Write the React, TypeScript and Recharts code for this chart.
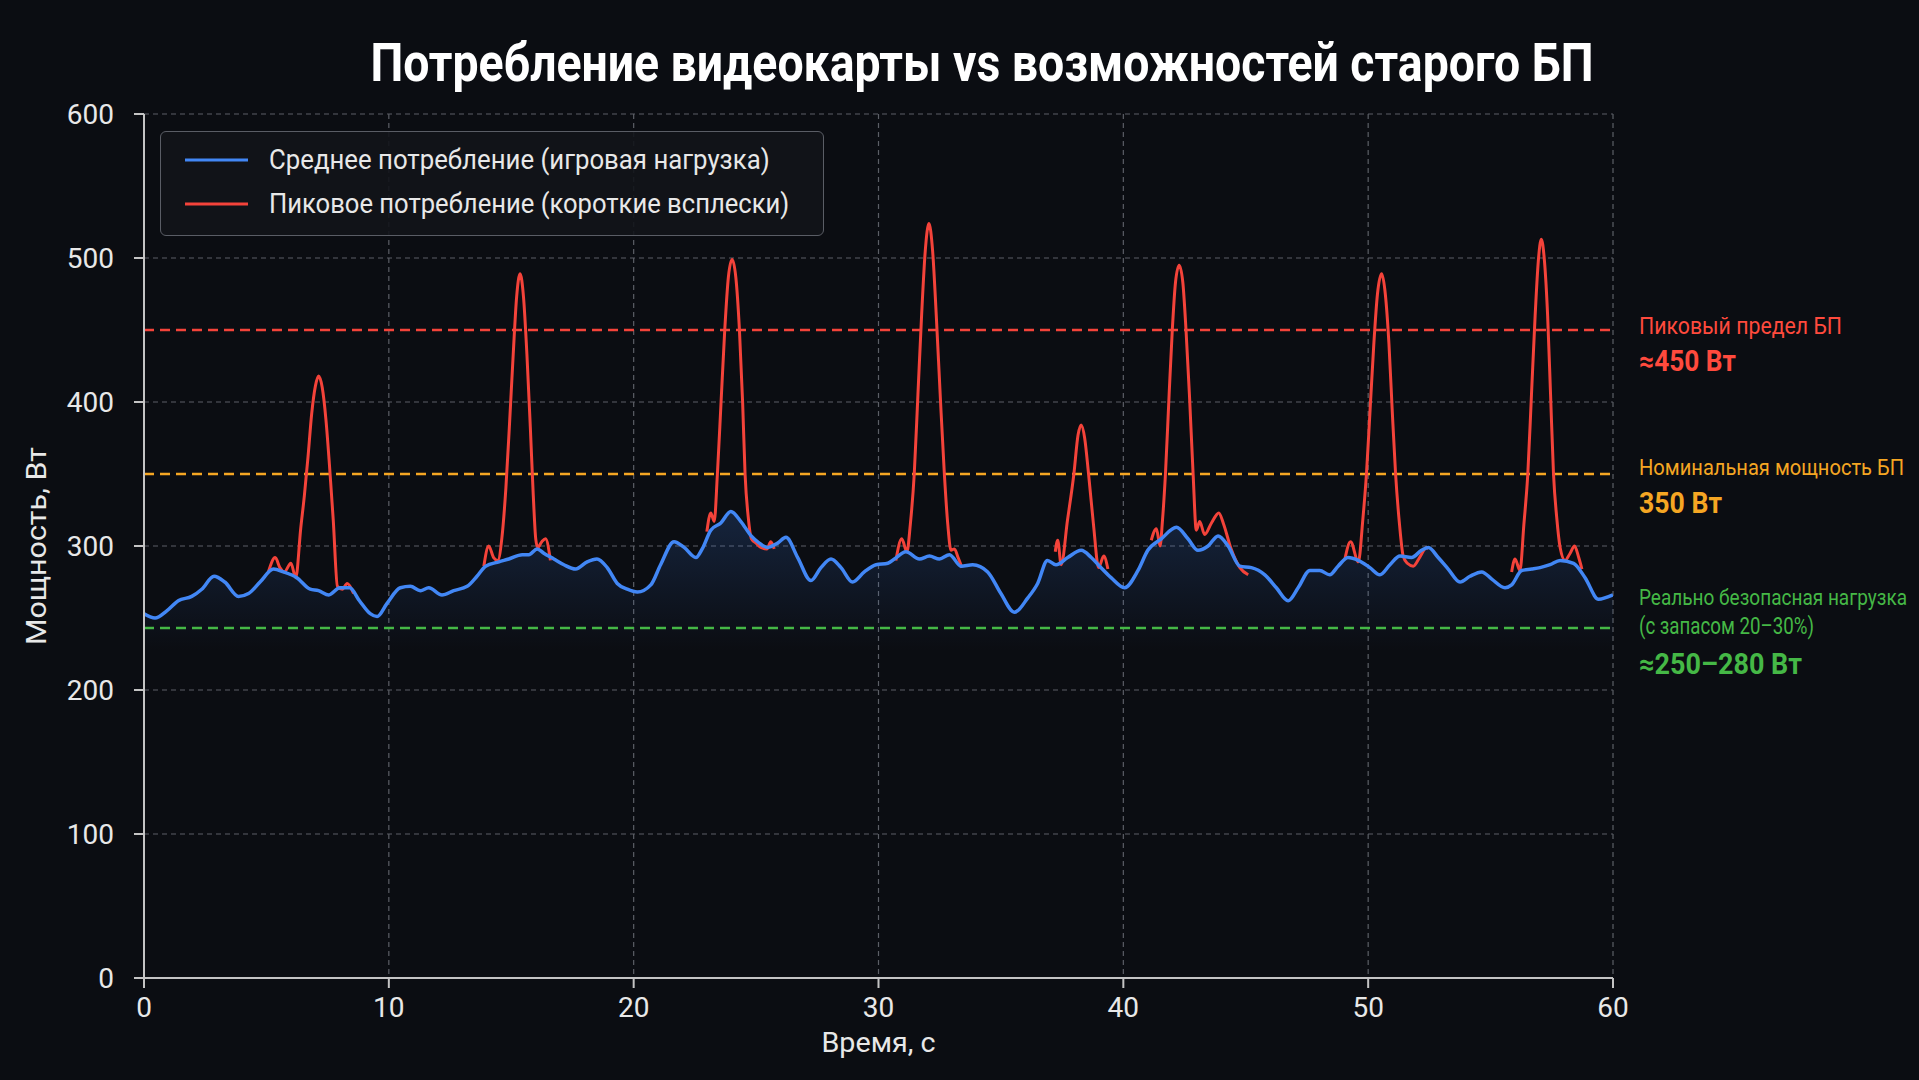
import React from 'react';
import {
  ComposedChart,
  Area,
  Line,
  XAxis,
  YAxis,
  CartesianGrid,
  ReferenceLine,
} from 'recharts';

const FONT = "Roboto, 'Liberation Sans', sans-serif";
const BG = '#0b0d12';
const BLUE = '#4287f5';
const RED = '#f4433a';
const ORANGE = '#f5a623';
const GREEN = '#45b846';

const timeTicks = [0, 10, 20, 30, 40, 50, 60];
const powerTicks = [0, 100, 200, 300, 400, 500, 600];

// average draw, seconds / watts
const avgTime = [
  0, 0.45, 0.93, 1.4, 1.95, 2.36, 2.86, 3.3, 3.86, 4.27, 4.74, 5.29, 5.7, 6.24, 6.79, 7.13, 7.55, 8.0, 8.4, 8.8,
  9.24, 9.52, 9.92, 10.47, 10.88, 11.29, 11.63, 12.17, 12.65, 13.2, 13.6, 13.95, 14.5, 14.9, 15.45, 15.72, 16.06,
  16.33, 16.74, 17.15, 17.63, 18.1, 18.5, 18.92, 19.33, 19.74, 20.15, 20.7, 21.1, 21.65, 22.06, 22.54, 22.8, 23.15,
  23.56, 23.97, 24.38, 24.8, 25.13, 25.47, 25.88, 26.22, 26.7, 27.24, 27.65, 28.06, 28.47, 28.94, 29.42, 29.9,
  30.38, 30.65, 31.12, 31.67, 32.08, 32.49, 32.9, 33.37, 33.85, 34.46, 35.0, 35.55, 36.1, 36.5, 36.9, 37.25, 37.73,
  38.28, 38.69, 39.03, 39.5, 40.05, 40.6, 41.0, 41.55, 42.17, 42.64, 43.05, 43.46, 43.87, 44.28, 44.76, 45.23,
  45.78, 46.25, 46.73, 47.14, 47.62, 48.02, 48.43, 48.77, 49.18, 49.6, 50.07, 50.48, 50.89, 51.3, 51.77, 52.18,
  52.46, 52.86, 53.27, 53.75, 54.16, 54.64, 55.05, 55.59, 55.86, 56.27, 56.68, 57.02, 57.43, 57.84, 58.39, 58.86,
  59.41, 60,
];
const avgWatts = [
  253, 250, 255, 262, 265, 270, 279, 275, 265, 267, 275, 284, 282, 278, 270, 269, 266, 271, 271, 262,
  253, 251, 260, 271, 272, 269, 271, 266, 269, 272, 279, 286, 289, 291, 294, 294, 298,
  295, 291, 287, 284, 289, 291, 285, 274, 270, 268, 273, 287, 303, 299, 292, 298, 311,
  316, 324, 317, 307, 302, 299, 302, 306, 292, 276, 285, 291, 285, 275, 282, 287,
  288, 291, 296, 291, 293, 291, 294, 286, 287, 282, 267, 254, 264, 274, 290, 287, 292,
  297, 292, 286, 278, 271, 283, 297, 305, 313, 305, 297, 300, 307, 300, 286, 285,
  280, 271, 262, 271, 283, 283, 280, 286, 292, 290, 285, 280, 287, 293, 292, 297,
  299, 292, 284, 275, 279, 282, 277, 271, 273, 283, 284, 285, 287, 290, 288, 278,
  263, 266,
];

// short peak bursts, [seconds, watts]
const peakBursts = [
  [[5.08, 282], [5.36, 292], [5.55, 285], [5.73, 282], [6.0, 288], [6.2, 278], [6.4, 312], [6.55, 335], [6.7, 362],
   [6.85, 392], [7.0, 411], [7.13, 418], [7.28, 410], [7.43, 388], [7.58, 355], [7.73, 318], [7.9, 272], [8.1, 270],
   [8.3, 274], [8.56, 267]],
  [[13.88, 286], [14.08, 300], [14.28, 292], [14.45, 290], [14.62, 306], [14.78, 340], [14.93, 385], [15.08, 433],
   [15.22, 473], [15.36, 489], [15.5, 473], [15.64, 433], [15.78, 382], [15.9, 335], [16.0, 305], [16.08, 299],
   [16.25, 303], [16.4, 305], [16.6, 290]],
  [[22.99, 310], [23.15, 323], [23.29, 317], [23.42, 350], [23.57, 400], [23.72, 450], [23.87, 487], [24.02, 499],
   [24.17, 487], [24.32, 450], [24.45, 400], [24.55, 350], [24.68, 320], [24.81, 305], [25.0, 302], [25.2, 299],
   [25.45, 298], [25.6, 303], [25.74, 298]],
  [[30.71, 290], [30.95, 305], [31.16, 296], [31.3, 315], [31.46, 350], [31.61, 405], [31.76, 460], [31.91, 505],
   [32.06, 524], [32.21, 505], [32.36, 460], [32.52, 405], [32.69, 350], [32.83, 315], [32.96, 297], [33.1, 298],
   [33.25, 292], [33.41, 285]],
  [[37.22, 296], [37.32, 304], [37.46, 287], [37.72, 318], [37.98, 350], [38.15, 377], [38.28, 384], [38.42, 375],
   [38.58, 350], [38.78, 315], [38.99, 285], [39.2, 293], [39.37, 284]],
  [[41.14, 304], [41.35, 312], [41.5, 300], [41.6, 318], [41.72, 350], [41.87, 405], [42.0, 450], [42.13, 483],
   [42.28, 495], [42.43, 483], [42.56, 450], [42.7, 405], [42.85, 350], [42.98, 311], [43.12, 317], [43.32, 308],
   [43.6, 316], [43.9, 323], [44.1, 315], [44.4, 298], [44.76, 285], [45.1, 280]],
  [[49.05, 291], [49.28, 303], [49.6, 289], [49.78, 318], [49.93, 350], [50.08, 395], [50.23, 440], [50.38, 475],
   [50.55, 489], [50.7, 475], [50.85, 440], [50.98, 395], [51.12, 350], [51.28, 315], [51.43, 293], [51.6, 288],
   [51.84, 286], [52.1, 292], [52.39, 299], [52.46, 298]],
  [[55.86, 282], [56.0, 291], [56.2, 283], [56.36, 315], [56.52, 350], [56.67, 405], [56.82, 460], [56.95, 498],
   [57.07, 513], [57.2, 498], [57.33, 460], [57.45, 405], [57.57, 350], [57.7, 320], [57.84, 299], [58.04, 290],
   [58.25, 295], [58.43, 300], [58.6, 292], [58.73, 284]],
];

const psuPeak = 450;
const psuRated = 350;
const psuSafe = 243;

const seriesNames = {
  avg: 'Среднее потребление (игровая нагрузка)',
  peak: 'Пиковое потребление (короткие всплески)',
};

const avgData = avgTime.map((t, i) => ({ t, avg: avgWatts[i] }));
const peakData: { t: number; peak: number | null }[] = [];
peakBursts.forEach((burst) => {
  burst.forEach(([t, w]) => peakData.push({ t, peak: w }));
  peakData.push({ t: burst[burst.length - 1][0] + 0.01, peak: null });
});

const tickStyle = { fill: '#e8e8e8', fontSize: 28, fontFamily: FONT };

type Note = { text: string; dy: number; w: number; bold?: boolean; size?: number };

const sideNote = (lines: Note[], color: string) => (props: any) => {
  const { x, y, width } = props.viewBox;
  return (
    <g>
      {lines.map((l, i) => (
        <text
          key={i}
          x={x + width + 26}
          y={y + l.dy}
          fill={color}
          fontFamily={FONT}
          fontSize={l.size ?? (l.bold ? 29 : 24)}
          fontWeight={l.bold ? 700 : 400}
          dominantBaseline="central"
          textLength={l.w}
          lengthAdjust="spacingAndGlyphs"
        >
          {l.text}
        </text>
      ))}
    </g>
  );
};

const yTitle = (props: any) => {
  const { x, y, height } = props.viewBox;
  const cx = x + 26;
  const cy = y + height / 2;
  return (
    <text
      x={cx}
      y={cy}
      transform={`rotate(-90 ${cx} ${cy})`}
      textAnchor="middle"
      dominantBaseline="central"
      fill="#e8e8e8"
      fontFamily={FONT}
      fontSize={28}
      textLength={198}
      lengthAdjust="spacingAndGlyphs"
    >
      Мощность, Вт
    </text>
  );
};

const xTitle = (props: any) => {
  const { x, y, width } = props.viewBox;
  return (
    <text
      x={x + width / 2}
      y={y + 74}
      textAnchor="middle"
      fill="#e8e8e8"
      fontFamily={FONT}
      fontSize={28}
      textLength={114}
      lengthAdjust="spacingAndGlyphs"
    >
      Время, с
    </text>
  );
};

const legendItems = [
  { key: 'avg', color: BLUE, w: 409 },
  { key: 'peak', color: RED, w: 425 },
];

export default function App() {
  return (
    <div style={{ position: 'fixed', left: 0, top: 0, width: 1919, height: 1080, background: BG }}>
      <ComposedChart
        width={1919}
        height={1080}
        data={avgData}
        margin={{ top: 114, right: 306, left: 10, bottom: 12 }}
      >
        <defs>
          <linearGradient id="avgFill" x1="0" y1="0" x2="0" y2="1">
            <stop offset="0%" stopColor={BLUE} stopOpacity={0.32} />
            <stop offset="18%" stopColor={BLUE} stopOpacity={0.12} />
            <stop offset="30%" stopColor={BLUE} stopOpacity={0} />
          </linearGradient>
        </defs>
        <CartesianGrid stroke="#5c5f66" strokeDasharray="5 4" strokeWidth={1.2} />
        <XAxis
          type="number"
          dataKey="t"
          domain={[0, 60]}
          ticks={timeTicks}
          allowDataOverflow
          height={90}
          tick={tickStyle}
          tickSize={10}
          tickMargin={9}
          stroke="#c4c4c4"
          strokeWidth={2}
          label={xTitle}
        />
        <YAxis
          type="number"
          domain={[0, 600]}
          ticks={powerTicks}
          width={134}
          tick={tickStyle}
          tickSize={10}
          tickMargin={20}
          stroke="#c4c4c4"
          strokeWidth={2}
          label={yTitle}
        />
        <ReferenceLine
          y={psuPeak}
          stroke={RED}
          strokeWidth={2.5}
          strokeDasharray="10 6"
          label={sideNote(
            [
              { text: 'Пиковый предел БП', dy: -4, w: 203 },
              { text: '≈450 Вт', dy: 31, w: 97, bold: true },
            ],
            '#ff4a3d'
          )}
        />
        <ReferenceLine
          y={psuRated}
          stroke={ORANGE}
          strokeWidth={2.5}
          strokeDasharray="10 6"
          label={sideNote(
            [
              { text: 'Номинальная мощность БП', dy: -7, w: 265, size: 22 },
              { text: '350 Вт', dy: 29, w: 83, bold: true },
            ],
            ORANGE
          )}
        />
        <ReferenceLine
          y={psuSafe}
          stroke={GREEN}
          strokeWidth={2.5}
          strokeDasharray="10 6"
          label={sideNote(
            [
              { text: 'Реально безопасная нагрузка', dy: -31, w: 268, size: 22 },
              { text: '(с запасом 20–30%)', dy: -2, w: 175 },
              { text: '≈250–280 Вт', dy: 36, w: 163, bold: true },
            ],
            GREEN
          )}
        />
        <Area
          type="monotone"
          dataKey="avg"
          stroke="none"
          fill="url(#avgFill)"
          isAnimationActive={false}
          legendType="none"
        />
        <Line
          data={peakData}
          type="monotone"
          dataKey="peak"
          name={seriesNames.peak}
          stroke={RED}
          strokeWidth={3}
          dot={false}
          connectNulls={false}
          isAnimationActive={false}
        />
        <Line
          type="monotone"
          dataKey="avg"
          name={seriesNames.avg}
          stroke={BLUE}
          strokeWidth={3.5}
          dot={false}
          isAnimationActive={false}
        />
      </ComposedChart>

      <div
        style={{
          position: 'absolute',
          left: 160,
          top: 131,
          width: 664,
          height: 105,
          boxSizing: 'border-box',
          border: '1.5px solid #5a5d65',
          borderRadius: 6,
          background: 'rgba(18,20,26,0.9)',
          paddingTop: 6,
        }}
      >
        <svg width={660} height={92}>
          {legendItems.map((it, i) => (
            <g key={it.key}>
              <line x1={24} x2={87} y1={22 + i * 44} y2={22 + i * 44} stroke={it.color} strokeWidth={3} />
              <text
                x={108}
                y={22 + i * 44}
                dominantBaseline="central"
                fill="#e8e8e8"
                fontFamily={FONT}
                fontSize={27}
                textLength={it.w * 1.224}
                lengthAdjust="spacingAndGlyphs"
              >
                {seriesNames[it.key as 'avg' | 'peak']}
              </text>
            </g>
          ))}
        </svg>
      </div>

      <svg
        width={1919}
        height={1080}
        style={{ position: 'absolute', left: 0, top: 0, pointerEvents: 'none' }}
      >
        <text
          x={982}
          y={81}
          textAnchor="middle"
          fill="#ffffff"
          fontFamily={FONT}
          fontSize={54}
          fontWeight={700}
          textLength={1223}
          lengthAdjust="spacingAndGlyphs"
        >
          Потребление видеокарты vs возможностей старого БП
        </text>
      </svg>
    </div>
  );
}
